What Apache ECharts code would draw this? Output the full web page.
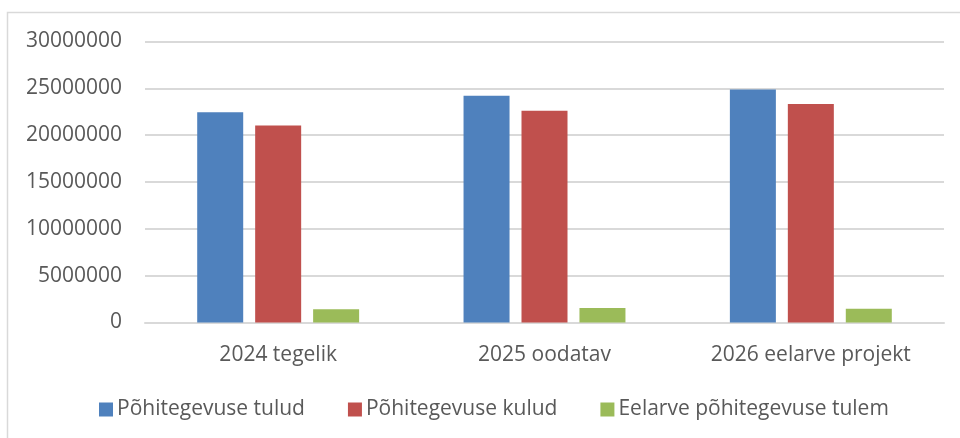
<!DOCTYPE html>
<html>
<head>
<meta charset="utf-8">
<script src="https://cdn.jsdelivr.net/npm/echarts@6/dist/echarts.min.js"></script>
<style>
  html, body { margin: 0; padding: 0; background: #fff; }
  #chart { width: 960px; height: 438px; }
</style>
</head>
<body>
<div id="chart"></div>
<script>
const categories = ['2024 tegelik', '2025 oodatav', '2026 eelarve projekt'];
const seriesNames = ['Põhitegevuse tulud', 'Põhitegevuse kulud', 'Eelarve põhitegevuse tulem'];
const tulud = [22450000, 24200000, 24870000];
const kulud = [21030000, 22600000, 23340000];
const tulem = [1420000, 1550000, 1480000];
const colors = ['#4F81BD', '#C0504D', '#9BBB59'];

const FONT = '"Open Sans", "Liberation Sans", sans-serif';
const TXT = '#595959';
const FS = 21;

const chart = echarts.init(document.getElementById('chart'), null, { renderer: 'canvas' });
const values = [tulud, kulud, tulem];
chart.setOption({
  animation: false,
  color: colors,
  graphic: [
    { type: 'polyline', shape: { points: [[7.5, 440], [7.5, 12.5], [962, 12.5]] },
      style: { stroke: '#D9D9D9', lineWidth: 1.5, fill: null } }
  ],
  grid: { left: 145, right: 16, top: 41.5, bottom: 115.5, containLabel: false },
  legend: {
    bottom: 13,
    left: 94,
    padding: 5,
    itemWidth: 14, itemHeight: 14, itemGap: 43,
    icon: 'rect',
    textStyle: { color: TXT, fontSize: FS, fontFamily: FONT, padding: [0, 0, 0, -1] },
    data: seriesNames
  },
  xAxis: {
    type: 'category',
    data: categories,
    axisLine: { lineStyle: { color: '#D9D9D9', width: 2 } },
    axisTick: { show: false },
    axisLabel: { color: TXT, fontSize: FS, fontFamily: FONT, margin: 22 }
  },
  yAxis: {
    type: 'value', min: 0, max: 30000000, interval: 5000000,
    axisLine: { show: false }, axisTick: { show: false },
    splitLine: { lineStyle: { color: '#D9D9D9', width: 2 } },
    axisLabel: { color: TXT, fontSize: FS, fontFamily: FONT, margin: 23,
      formatter: v => String(v) }
  },
  series: seriesNames.map((n, i) => ({
    name: n, type: 'bar', data: values[i],
    barWidth: 46, barGap: '26%',
    itemStyle: { color: colors[i] }
  }))
});
</script>
</body>
</html>
